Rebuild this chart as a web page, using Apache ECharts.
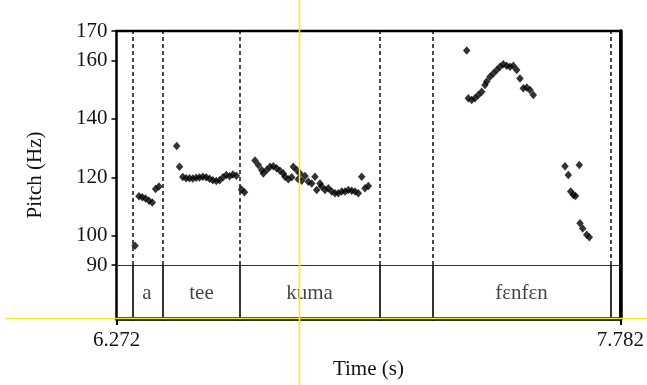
<!DOCTYPE html>
<html>
<head>
<meta charset="utf-8">
<script src="https://cdn.jsdelivr.net/npm/echarts@6/dist/echarts.min.js"></script>
<style>
html,body{margin:0;padding:0;background:#fff;}
#chart{width:647px;height:385px;}
</style>
</head>
<body>
<div id="chart"></div>
<script>
// ---- data ----
const timeMin = 6.272;
const timeMax = 7.782;
const xTickValues = [6.272, 7.782];
const yTickValues = [90, 100, 120, 140, 160, 170];

const aTimes   = [6.3274, 6.3393, 6.3492, 6.3591, 6.3693, 6.3792, 6.3890, 6.3989];
const aPitch   = [96.6, 113.5, 113.2, 112.7, 112.0, 111.4, 116.0, 116.8];

const teeTimes = [6.4522, 6.4606, 6.4704, 6.4803, 6.4905, 6.5004, 6.5106, 6.5204, 6.5306, 6.5405,
                  6.5507, 6.5605, 6.5707, 6.5806, 6.5908, 6.6006, 6.6108, 6.6207, 6.6309, 6.6461, 6.6551];
const teePitch = [130.7, 123.6, 120.1, 119.7, 119.7, 119.6, 119.8, 119.9, 120.2, 120.0,
                  119.5, 119.0, 118.7, 119.0, 120.0, 120.8, 120.3, 120.9, 120.5, 115.8, 114.9];

const kumaTimes = [6.6865, 6.6964, 6.7066, 6.7114, 6.7216, 6.7314, 6.7413, 6.7515, 6.7614, 6.7713,
                   6.7763, 6.7862, 6.7964, 6.8012, 6.8114, 6.8161, 6.8212, 6.8263, 6.8362, 6.8461,
                   6.8563, 6.8661, 6.8712, 6.8811, 6.8862, 6.8961, 6.9059, 6.9161, 6.9260, 6.9359,
                   6.9461, 6.9560, 6.9658, 6.9760, 6.9859, 6.9957, 7.0059, 7.0158, 7.0257];
const kumaPitch = [125.7, 124.2, 122.5, 121.3, 122.5, 123.6, 123.8, 123.1, 122.2, 121.3,
                   120.2, 119.3, 120.0, 123.6, 122.5, 119.3, 121.3, 118.8, 120.4, 118.5,
                   117.9, 120.2, 115.6, 117.9, 116.8, 115.6, 116.2, 115.1, 114.5, 114.5,
                   115.1, 115.1, 115.6, 115.4, 115.1, 114.5, 120.2, 116.2, 117.0];

const fenTimes = [7.3202, 7.3250, 7.3352, 7.3450, 7.3549, 7.3651, 7.3750, 7.3801, 7.3899, 7.3998,
                  7.4100, 7.4199, 7.4297, 7.4399, 7.4498, 7.4597, 7.4698, 7.4797, 7.4896, 7.4998,
                  7.5097, 7.5195,
                  7.6144, 7.6243, 7.6315, 7.6393, 7.6458, 7.6572, 7.6593, 7.6674, 7.6793, 7.6871];
const fenPitch = [163.3, 147.0, 146.4, 147.0, 148.1, 149.2, 151.5, 152.7, 154.4, 155.5,
                  156.7, 157.8, 158.6, 158.1, 157.8, 158.1, 156.7, 153.8, 150.4, 150.7,
                  149.8, 148.1,
                  123.8, 120.8, 115.1, 113.9, 113.6, 124.2, 104.3, 102.5, 100.3, 99.5];

const tierBoundaries = [6.3175, 6.4090, 6.6437, 7.0556, 7.2232, 7.7452];
const tierLabels     = ["a", "tee", "kuma", "", "fɛnfɛn"];

// ---- build ----
function zip(ts, ps) { return ts.map((t, i) => [t, ps[i]]); }
const points = [].concat(zip(aTimes, aPitch), zip(teeTimes, teePitch),
                         zip(kumaTimes, kumaPitch), zip(fenTimes, fenPitch));
const labelData = tierLabels.map((txt, i) =>
  [(tierBoundaries[i] + tierBoundaries[i + 1]) / 2, 0.5, txt]);

const FONT = 'Liberation Serif';
const TXT = '#141414';
const L = 116.5, T = 31, W = 504.5;

const chart = echarts.init(document.getElementById('chart'), null, {renderer: 'canvas'});
chart.setOption({
  animation: false,
  backgroundColor: '#fff',
  grid: [
    {left: L, top: T, width: W, height: 290, show: true, borderColor: '#000', borderWidth: 2.5, backgroundColor: 'transparent'},
    {left: L, top: T, width: W, height: 234},
    {left: L, top: 265, width: W, height: 56}
  ],
  xAxis: [
    {gridIndex: 0, type: 'value', min: timeMin, max: timeMax, position: 'bottom',
     axisLine: {show: true, lineStyle: {color: '#000', width: 3.5}},
     axisTick: {show: true, customValues: xTickValues, length: 6, lineStyle: {color: '#000', width: 2}},
     axisLabel: {show: true, customValues: xTickValues, margin: 11, formatter: v => v.toFixed(3),
                 fontFamily: FONT, fontSize: 21, color: TXT},
     splitLine: {show: false},
     name: 'Time (s)', nameLocation: 'middle', nameGap: 40,
     nameTextStyle: {fontFamily: FONT, fontSize: 21, color: TXT}},
    {gridIndex: 1, type: 'value', min: timeMin, max: timeMax, position: 'bottom',
     axisLine: {show: true, lineStyle: {color: '#333', width: 1}},
     axisTick: {show: false}, axisLabel: {show: false}, splitLine: {show: false}},
    {gridIndex: 2, type: 'value', min: timeMin, max: timeMax, show: false}
  ],
  yAxis: [
    {gridIndex: 0, type: 'value', min: 0, max: 1, position: 'left',
     axisLine: {show: false}, axisTick: {show: false}, axisLabel: {show: false}, splitLine: {show: false},
     name: 'Pitch (Hz)', nameLocation: 'middle', nameGap: 71,
     nameTextStyle: {fontFamily: FONT, fontSize: 21, color: TXT}},
    {gridIndex: 0, type: 'value', min: 0, max: 1, position: 'right',
     axisLine: {show: true, lineStyle: {color: '#000', width: 3.5}},
     axisTick: {show: false}, axisLabel: {show: false}, splitLine: {show: false}},
    {gridIndex: 1, type: 'value', min: 90, max: 170, position: 'left',
     axisLine: {show: false},
     axisTick: {show: true, customValues: yTickValues, length: 5, lineStyle: {color: '#000', width: 1.5}},
     axisLabel: {show: true, customValues: yTickValues, margin: 9,
                 fontFamily: FONT, fontSize: 21, color: TXT},
     splitLine: {show: false}},
    {gridIndex: 2, type: 'value', min: 0, max: 1, show: false}
  ],
  series: [
    {type: 'scatter', xAxisIndex: 1, yAxisIndex: 2, data: points,
     symbol: 'diamond', symbolSize: [7.5, 8.5], itemStyle: {color: '#000'},
     silent: true,
     markLine: {silent: true, symbol: ['none', 'none'], label: {show: false},
                lineStyle: {color: '#111', width: 1.5, type: [4, 3]},
                data: tierBoundaries.map(t => ({xAxis: t}))}},
    {type: 'scatter', xAxisIndex: 2, yAxisIndex: 3, data: labelData,
     symbolSize: 0, silent: true,
     label: {show: true, position: 'inside', formatter: p => p.data[2],
             fontFamily: FONT, fontSize: 21, color: TXT},
     markLine: {silent: true, symbol: ['none', 'none'], label: {show: false},
                lineStyle: {color: '#111', width: 1.7, type: 'solid'},
                data: tierBoundaries.map(t => ({xAxis: t}))}}
  ],
  graphic: [
    {type: 'line', z: 100, silent: true, shape: {x1: 299.5, y1: 0, x2: 299.5, y2: 385},
     style: {stroke: '#f4ec1c', lineWidth: 1.6}},
    {type: 'line', z: 100, silent: true, shape: {x1: 6, y1: 318.5, x2: 647, y2: 318.5},
     style: {stroke: '#f4ec1c', lineWidth: 1.6}}
  ]
});
</script>
</body>
</html>
